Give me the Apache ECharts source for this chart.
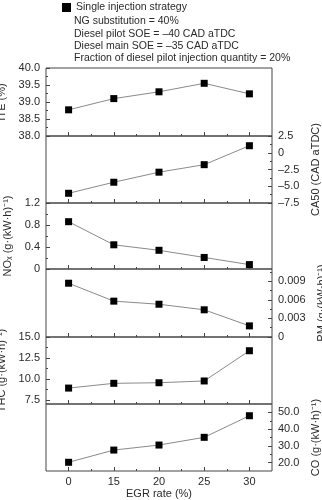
<!DOCTYPE html>
<html lang="en">
<head>
    <meta charset="UTF-8">
    <title>EGR rate</title>
    <style>
        body { margin: 0; background: #fff; }
    </style>
    <script src="https://cdn.jsdelivr.net/npm/echarts@6/dist/echarts.min.js"></script>
</head>
<body>
<div id="main" style="width:322px;height:500px"></div>
<script>
    // values
    var egrRates = [0, 15, 20, 25, 30];
    var ite = [38.77, 39.10, 39.30, 39.55, 39.24];
    var ca50 = [-6.05, -4.4, -2.9, -1.78, 1.05];
    var nox = [0.86, 0.44, 0.34, 0.21, 0.08];
    var pm = [0.0087, 0.0058, 0.0053, 0.0044, 0.0018];
    var thc = [8.9, 9.47, 9.54, 9.75, 13.36];
    var co = [20.2, 27.5, 30.5, 35.1, 48.0];

    // tick labels
    var iteTicks = [38.0, 38.5, 39.0, 39.5, 40.0];
    var ca50Ticks = [-7.5, -5.0, -2.5, 0, 2.5];
    var noxTicks = [0, 0.4, 0.8, 1.2];
    var pmTicks = [0, 0.003, 0.006, 0.009];
    var thcTicks = [7.5, 10.0, 12.5, 15.0];
    var coTicks = [20, 30, 40, 50];

    var legendName = 'Single injection strategy';
    var notes = [
        'NG substitution = 40%',
        'Diesel pilot SOE = \u201340 CAD aTDC',
        'Diesel main SOE = \u201335 CAD aTDC',
        'Fraction of diesel pilot injection quantity = 20%'
    ];

    function dash(s) { return s.replace('-', '\u2013'); }

    var panels = [
        {data: ite, ticks: iteTicks, min: 38, max: 40, side: 'left', name: 'ITE (%)', dec: 1, top: 68, height: 68},
        {data: ca50, ticks: ca50Ticks, min: -7.5, max: 2.5, side: 'right', name: 'CA50 (CAD aTDC)', dec: 1, top: 136, height: 67},
        {data: nox, ticks: noxTicks, min: 0, max: 1.2, side: 'left', name: 'NO\u2093 (g\u00b7(kW\u00b7h)\u207b\u00b9)', dec: 1, top: 203, height: 66},
        {data: pm, ticks: pmTicks, min: 0, max: 0.011, side: 'right', name: 'PM (g\u00b7(kW\u00b7h)\u207b\u00b9)', dec: 3, top: 269, height: 68},
        {data: thc, ticks: thcTicks, min: 7, max: 15, side: 'left', name: 'THC (g\u00b7(kW\u00b7h)\u207b\u00b9)', dec: 1, top: 337, height: 67},
        {data: co, ticks: coTicks, min: 15, max: 55, side: 'right', name: 'CO (g\u00b7(kW\u00b7h)\u207b\u00b9)', dec: 1, top: 404, height: 67}
    ];

    var frameColor = '#444';
    var textColor = '#2a2a2a';
    var font = 'Liberation Sans, Arial, sans-serif';

    var grids = [], xAxes = [], yAxes = [], series = [];
    var xMajor = egrRates.map(function (r, i) { return i; });
    var xMinor = [0.5, 1.5, 2.5, 3.5];

    panels.forEach(function (p, k) {
        var last = k === panels.length - 1;
        grids.push({
            left: 46, width: 226, top: p.top, height: p.height,
            outerBoundsMode: 'none', containLabel: false,
            show: true, borderColor: frameColor, borderWidth: 1
        });
        // major x ticks + labels
        xAxes.push({
            type: 'value', gridIndex: k, position: 'bottom', min: -0.5, max: 4.5,
            axisLine: {show: false, onZero: false},
            splitLine: {show: false},
            axisTick: {show: true, inside: true, length: 4, customValues: xMajor, lineStyle: {color: frameColor}},
            axisLabel: {
                show: last, customValues: xMajor, margin: 5,
                fontSize: 11, fontFamily: font, color: textColor,
                formatter: function (v) { return String(egrRates[Math.round(v)]); }
            },
            name: last ? 'EGR rate (%)' : '',
            nameLocation: 'middle', nameGap: 17,
            nameTextStyle: {fontSize: 11, fontFamily: font, color: textColor}
        });
        // minor x ticks
        xAxes.push({
            type: 'value', gridIndex: k, position: 'bottom', min: -0.5, max: 4.5,
            axisLine: {show: false, onZero: false}, splitLine: {show: false},
            axisTick: {show: true, inside: true, length: 2, customValues: xMinor, lineStyle: {color: frameColor}},
            axisLabel: {show: false}
        });

        var minors = [];
        for (var i = 0; i < p.ticks.length - 1; i++) {
            minors.push((p.ticks[i] + p.ticks[i + 1]) / 2);
        }
        var step = p.ticks[1] - p.ticks[0];
        var below = p.ticks[0] - step / 2;
        var above = p.ticks[p.ticks.length - 1] + step / 2;
        if (below > p.min + 1e-9) minors.push(below);
        if (above < p.max - 1e-9) minors.push(above);

        yAxes.push({
            type: 'value', gridIndex: k, position: p.side, min: p.min, max: p.max,
            axisLine: {show: false, onZero: false}, splitLine: {show: false},
            axisTick: {show: true, inside: true, length: 4, customValues: p.ticks, lineStyle: {color: frameColor}},
            axisLabel: {
                customValues: p.ticks, margin: 6,
                fontSize: 11, fontFamily: font, color: textColor,
                formatter: function (v) {
                    if (Math.abs(v) < 1e-12) return '0';
                    return dash(v.toFixed(p.dec));
                }
            },
            name: p.name, nameLocation: 'middle',
            nameGap: p.side === 'left' ? 29 : 34,
            nameRotate: 90,
            nameTextStyle: {fontSize: 11, fontFamily: font, color: textColor}
        });
        yAxes.push({
            type: 'value', gridIndex: k, position: p.side, min: p.min, max: p.max,
            axisLine: {show: false, onZero: false}, splitLine: {show: false},
            axisTick: {show: true, inside: true, length: 2, customValues: minors, lineStyle: {color: frameColor}},
            axisLabel: {show: false}
        });

        series.push({
            name: legendName,
            type: 'line',
            xAxisIndex: k * 2,
            yAxisIndex: k * 2,
            data: p.data.map(function (v, i) { return [i, v]; }),
            symbol: 'rect',
            symbolSize: 7,
            itemStyle: {color: '#000'},
            lineStyle: {color: '#8a8a8a', width: 1},
            silent: true,
            animation: false
        });
    });

    var myChart = echarts.init(document.getElementById('main'));
    var option = {
        backgroundColor: '#fff',
        animation: false,
        legend: {
            data: [legendName],
            left: 58, top: 2, padding: [0, 4],
            icon: 'rect', itemWidth: 9, itemHeight: 9, itemGap: 6,
            textStyle: {fontSize: 10.5, fontFamily: font, color: textColor}
        },
        graphic: notes.map(function (t, i) {
            return {
                type: 'text', left: 74, top: 16 + i * 12.3,
                style: {text: t, fontSize: 10.5, fontFamily: font, fill: textColor}
            };
        }),
        grid: grids,
        xAxis: xAxes,
        yAxis: yAxes,
        series: series
    };
    myChart.setOption(option);
</script>
</body>
</html>
